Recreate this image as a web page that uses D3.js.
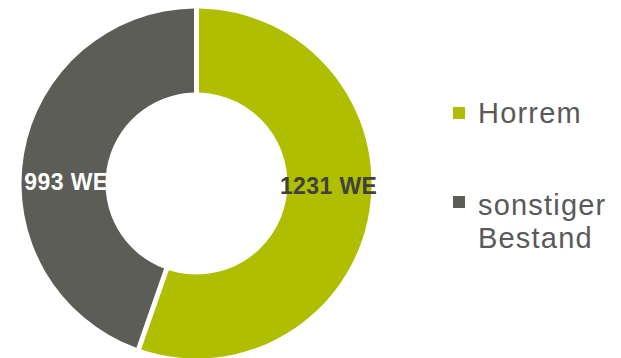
<!DOCTYPE html>
<meta charset="utf-8">
<html>
<head>
    <title>Bestand Horrem</title>
    <style>
        body { margin: 0; background: #fff; }
        svg { display: block; }
    </style>
</head>
<body>
    <script src="https://cdnjs.cloudflare.com/ajax/libs/d3/7.8.5/d3.min.js"></script>
    <script>
        // Daten
        var categories = ["Horrem", "sonstiger Bestand"];
        var values = [1231, 993];
        var labels = ["1231 WE", "993 WE"];
        var colors = ["#afbe00", "#5b5d56"];
        var labelColors = ["#404040", "#ffffff"];

        var width = 621, height = 358;
        var cx = 196.5, cy = 183.5;
        var outerR = 175, innerR = 91;

        var svg = d3.select("body")
            .append("svg")
            .attr("width", width)
            .attr("height", height);

        var pie = d3.pie().sort(null).value(function (d) { return d; });
        var arc = d3.arc()
            .innerRadius(innerR)
            .outerRadius(outerR)
            .padRadius(outerR)
            .padAngle(5 / outerR);

        var arcs = pie(values);

        var g = svg.append("g").attr("transform", "translate(" + cx + "," + cy + ")");

        g.selectAll("path")
            .data(arcs)
            .enter()
            .append("path")
            .attr("d", arc)
            .attr("fill", function (d, i) { return colors[i]; });

        // Beschriftung (x vom Schwerpunkt, y nahe der Mitte wie im Original)
        var labelY = [10, 6];
        g.selectAll("text.lbl")
            .data(arcs)
            .enter()
            .append("text")
            .attr("class", "lbl")
            .attr("x", function (d) { return arc.centroid(d)[0] + 1; })
            .attr("y", function (d, i) { return labelY[i]; })
            .attr("text-anchor", "middle")
            .attr("font-family", "Liberation Sans, Arial, sans-serif")
            .attr("font-weight", "bold")
            .attr("font-size", 23)
            .attr("letter-spacing", 0.4)
            .attr("fill", function (d, i) { return labelColors[i]; })
            .text(function (d, i) { return labels[i]; });

        // Legende
        var legend = svg.append("g").attr("transform", "translate(453,0)");
        var legendY = [107, 196];
        var legendBase = [123, 215];
        legend.selectAll("rect")
            .data(categories)
            .enter()
            .append("rect")
            .attr("x", 0)
            .attr("y", function (d, i) { return legendY[i]; })
            .attr("width", 12)
            .attr("height", 12)
            .attr("fill", function (d, i) { return colors[i]; });

        legend.selectAll("text")
            .data(categories)
            .enter()
            .append("text")
            .attr("x", 25)
            .attr("y", function (d, i) { return legendBase[i]; })
            .attr("font-family", "Liberation Sans, Arial, sans-serif")
            .attr("font-size", 29)
            .attr("letter-spacing", 1.2)
            .attr("fill", "#595959")
            .each(function (d) {
                var words = d.split(" ");
                var t = d3.select(this);
                words.forEach(function (w, j) {
                    t.append("tspan")
                        .attr("x", 25)
                        .attr("dy", j === 0 ? 0 : 33)
                        .text(w);
                });
            });
    </script>
</body>
</html>
